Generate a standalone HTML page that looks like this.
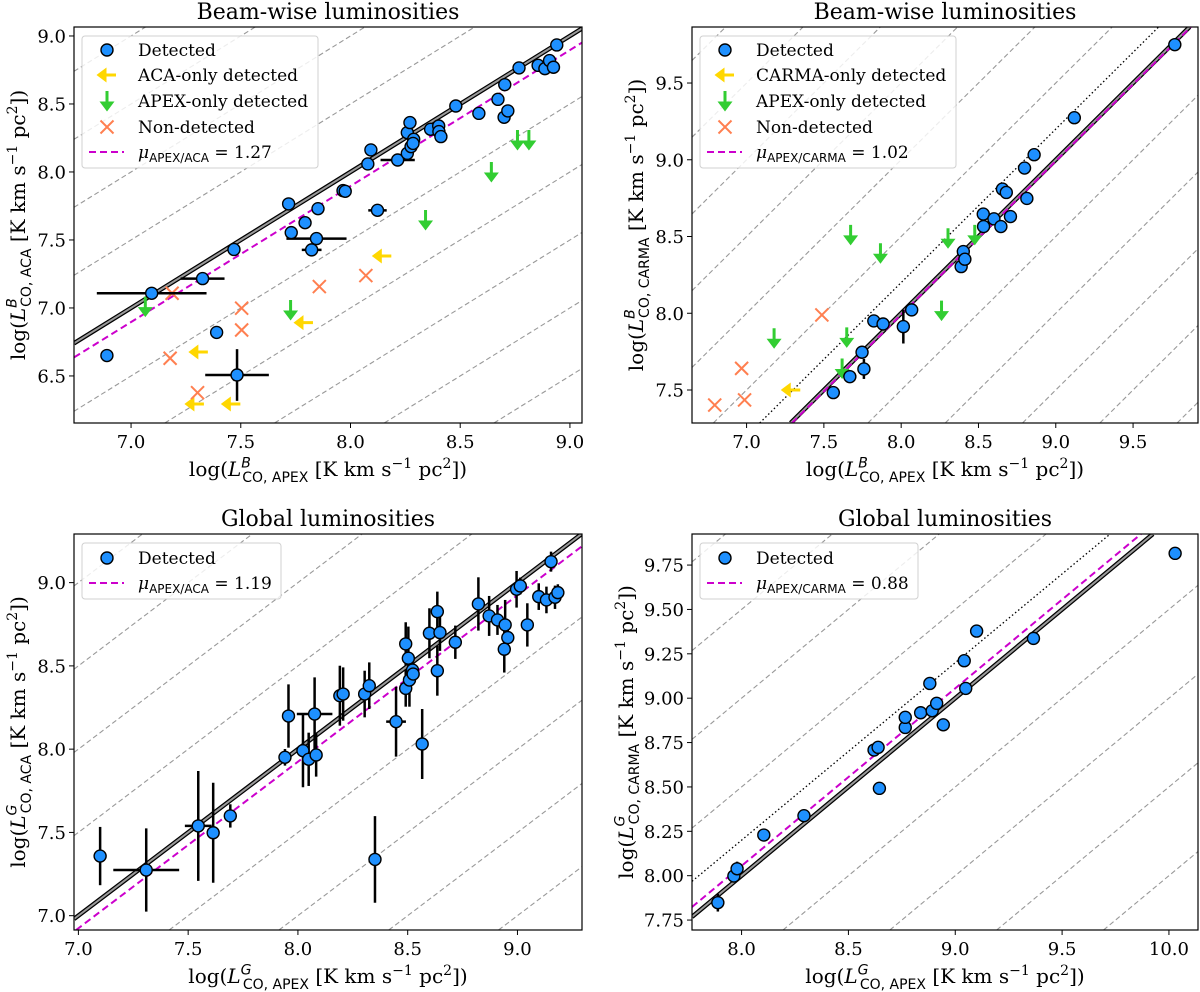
<!DOCTYPE html>
<html><head><meta charset="utf-8"><title>CO luminosity comparison</title>
<style>
html,body{margin:0;padding:0;background:#fff;width:1200px;height:992px;overflow:hidden;}
svg{display:block;overflow:hidden;}
text{font-family:"DejaVu Serif","Liberation Serif",serif;fill:#000;}
.sans{font-family:"DejaVu Sans","Liberation Sans",sans-serif;}
</style></head>
<body>
<svg id="fig" width="1200" height="992" viewBox="0 0 1200 992" xmlns="http://www.w3.org/2000/svg"></svg>
<script>
// ---------- Data: top-left (beam-wise APEX vs ACA) ----------
const tlDetX = [6.89,7.094,7.326,7.39,7.483,7.469,7.718,7.73,7.793,7.852,7.845,7.823,7.966,7.976,8.079,8.093,8.123,8.215,8.259,8.271,8.259,8.276,8.288,8.285,8.365,8.402,8.403,8.412,8.48,8.585,8.672,8.703,8.70,8.717,8.768,8.855,8.886,8.907,8.925,8.94];
const tlDetY = [6.65,7.108,7.216,6.82,6.507,7.43,7.765,7.554,7.627,7.73,7.51,7.427,7.863,7.858,8.059,8.162,7.718,8.088,8.289,8.363,8.137,8.186,8.24,8.21,8.314,8.338,8.297,8.26,8.485,8.431,8.534,8.642,8.402,8.449,8.765,8.784,8.76,8.819,8.77,8.934];
const tlDetXErr = [0,0.25,0.1,0,0.145,0,0,0,0,0,0.137,0.045,0,0,0,0,0.042,0.078,0,0,0,0,0,0,0,0,0,0,0,0,0,0,0,0,0,0,0,0,0,0];
const tlDetYErr = [0,0,0,0,0.19,0,0,0,0,0,0,0,0,0,0,0,0,0,0,0,0,0,0,0,0,0,0,0,0,0,0,0,0,0,0,0,0,0,0,0];
const tlAltX = [8.145,7.788,7.309,7.291,7.457];
const tlAltY = [7.382,6.892,6.676,6.294,6.294];
const tlApexX = [7.065,7.727,8.342,8.642,8.761,8.813];
const tlApexY = [7.01,6.985,7.647,8.0,8.235,8.235];
const tlNonX = [7.187,7.178,7.303,7.504,7.504,7.858,8.07];
const tlNonY = [7.108,6.63,6.377,6.998,6.838,7.157,7.238];
const tlMu = 1.27;
// ---------- Data: top-right (beam-wise APEX vs CARMA) ----------
const trDetX = [7.561,7.668,7.759,7.747,7.823,7.883,8.014,8.068,8.388,8.402,8.412,8.531,8.533,8.6,8.645,8.655,8.68,8.707,8.813,8.798,8.86,9.12,9.77];
const trDetY = [7.483,7.587,7.637,7.746,7.95,7.93,7.913,8.022,8.304,8.402,8.352,8.646,8.565,8.615,8.565,8.809,8.787,8.63,8.748,8.946,9.033,9.274,9.75];
const trDetXErr = [0,0,0,0,0,0,0,0,0,0,0,0,0,0,0,0,0,0,0,0,0,0,0];
const trDetYErr = [0,0,0.065,0.03,0,0,0.11,0,0,0,0,0,0,0,0,0,0,0,0,0,0,0,0];
const trAltX = [7.289];
const trAltY = [7.5];
const trApexX = [7.178,7.673,7.866,7.648,7.618,8.261,8.303,8.476];
const trApexY = [7.837,8.511,8.391,7.843,7.64,8.017,8.489,8.511];
const trNonX = [6.794,6.968,6.987,7.487];
const trNonY = [7.402,7.641,7.435,7.989];
const trMu = 1.02;
// ---------- Data: bottom-left (global APEX vs ACA) ----------
const blDetX = [7.099,7.309,7.546,7.614,7.692,7.941,7.957,8.023,8.049,8.076,8.083,8.191,8.206,8.304,8.325,8.351,8.447,8.491,8.491,8.503,8.508,8.522,8.525,8.566,8.599,8.635,8.635,8.647,8.717,8.822,8.871,8.909,8.944,8.94,8.956,8.996,9.013,9.045,9.097,9.132,9.153,9.171,9.184];
const blDetY = [7.358,7.274,7.539,7.498,7.599,7.951,8.199,7.991,7.939,8.211,7.965,8.321,8.331,8.331,8.381,7.338,8.165,8.632,8.365,8.546,8.415,8.475,8.451,8.031,8.696,8.826,8.471,8.7,8.642,8.872,8.8,8.776,8.746,8.6,8.67,8.96,8.98,8.746,8.916,8.896,9.126,8.912,8.94];
const blDetXErr = [0,0.15,0.061,0,0,0,0,0,0,0.081,0,0,0,0,0,0,0.045,0,0,0,0,0,0,0,0,0,0,0,0,0,0,0,0,0,0,0,0,0,0,0,0,0,0];
const blDetYErr = [0.175,0.25,0.33,0.3,0.07,0.05,0.19,0.22,0.16,0.22,0.13,0.18,0.16,0.14,0.14,0.26,0.21,0.13,0.11,0.19,0.16,0.06,0.06,0.21,0.15,0.12,0.15,0.11,0.1,0.16,0.12,0.09,0.15,0.14,0.1,0.11,0.05,0.13,0.08,0.08,0.06,0.07,0.05];
const blMu = 1.19;
// ---------- Data: bottom-right (global APEX vs CARMA) ----------
const brDetX = [7.889,7.964,7.979,8.104,8.292,8.62,8.639,8.645,8.766,8.766,8.838,8.881,8.892,8.913,8.944,9.042,9.049,9.1,9.366,10.029];
const brDetY = [7.848,7.998,8.039,8.229,8.338,8.708,8.723,8.492,8.835,8.892,8.918,9.083,8.929,8.971,8.85,9.211,9.055,9.378,9.337,9.816];
const brDetXErr = [0,0,0,0,0,0,0,0,0,0,0,0,0,0,0,0,0,0,0,0];
const brDetYErr = [0.05,0,0.04,0,0,0,0,0.03,0,0,0,0,0,0,0,0,0,0,0,0];
const brMu = 0.88;
// tick values
const tlXTicks = [7.0,7.5,8.0,8.5,9.0];
const tlYTicks = [6.5,7.0,7.5,8.0,8.5,9.0];
const trXTicks = [7.0,7.5,8.0,8.5,9.0,9.5];
const trYTicks = [7.5,8.0,8.5,9.0,9.5];
const blXTicks = [7.0,7.5,8.0,8.5,9.0];
const blYTicks = [7.0,7.5,8.0,8.5,9.0];
const brXTicks = [8.0,8.5,9.0,9.5,10.0];
const brYTicks = [7.75,8.00,8.25,8.50,8.75,9.00,9.25,9.50,9.75];

const NS = 'http://www.w3.org/2000/svg';
const fig = document.getElementById('fig');
function mk(parent, tag, attrs, name, inter) {
  const el = document.createElementNS(NS, tag);
  for (const k in attrs) el.setAttribute(k, attrs[k]);
  
  
  parent.appendChild(el);
  return el;
}
function tspan(parent, txt, attrs) {
  const t = document.createElementNS(NS, 'tspan');
  for (const k in attrs) t.setAttribute(k, attrs[k]);
  t.textContent = txt;
  parent.appendChild(t);
  return t;
}
function lumLabel(t, sup, sub, fs) {
  const small = Math.round(fs * 0.68);
  tspan(t, 'log(', {});
  tspan(t, 'L', {'font-style': 'italic'});
  tspan(t, sup, {'font-style': 'italic', 'font-size': small, 'dy': -fs * 0.42, 'class': 'sans'});
  tspan(t, sub, {'font-size': small, 'dy': fs * 0.72, 'dx': -small * 0.62, 'class': 'sans'});
  tspan(t, ' [K km s', {'dy': -fs * 0.30});
  tspan(t, '\u22121', {'font-size': small, 'dy': -fs * 0.40});
  tspan(t, ' pc', {'dy': fs * 0.40});
  tspan(t, '2', {'font-size': small, 'dy': -fs * 0.40});
  tspan(t, '])', {'dy': fs * 0.40});
}

const panels = [
  {id:'tl', L:74, R:582, T:27, B:423, xd:[6.74,9.055], yd:[6.154,9.066], xt:tlXTicks, yt:tlYTicks, ydec:1,
   title:'Beam-wise luminosities', sup:'B', ysub:'CO, ACA', xsub:'CO, APEX', ylx:18,
   det:[tlDetX,tlDetY,tlDetXErr,tlDetYErr], alt:[tlAltX,tlAltY], apex:[tlApexX,tlApexY], non:[tlNonX,tlNonY],
   mu:tlMu, musub:'APEX/ACA', dotted:false, altLabel:'ACA-only detected',
   leg:{x:82,y:36,w:236,h:132}},
  {id:'tr', L:692, R:1198, T:27, B:423, xd:[6.647,9.92], yd:[7.285,9.865], xt:trXTicks, yt:trYTicks, ydec:1,
   title:'Beam-wise luminosities', sup:'B', ysub:'CO, CARMA', xsub:'CO, APEX', ylx:636,
   det:[trDetX,trDetY,trDetXErr,trDetYErr], alt:[trAltX,trAltY], apex:[trApexX,trApexY], non:[trNonX,trNonY],
   mu:trMu, musub:'APEX/CARMA', dotted:true, altLabel:'CARMA-only detected',
   leg:{x:700,y:36,w:256,h:132}},
  {id:'bl', L:74, R:582, T:534, B:930, xd:[6.98,9.294], yd:[6.914,9.292], xt:blXTicks, yt:blYTicks, ydec:1,
   title:'Global luminosities', sup:'G', ysub:'CO, ACA', xsub:'CO, APEX', ylx:18,
   det:[blDetX,blDetY,blDetXErr,blDetYErr], mu:blMu, musub:'APEX/ACA', dotted:false,
   leg:{x:82,y:543,w:199,h:56}},
  {id:'br', L:692, R:1198, T:534, B:930, xd:[7.768,10.136], yd:[7.694,9.925], xt:brXTicks, yt:brYTicks, ydec:2,
   title:'Global luminosities', sup:'G', ysub:'CO, CARMA', xsub:'CO, APEX', ylx:626,
   det:[brDetX,brDetY,brDetXErr,brDetYErr], mu:brMu, musub:'APEX/CARMA', dotted:true,
   leg:{x:700,y:543,w:218,h:56}}
];

const BLUE = '#1e90ff', GOLD = '#ffd700', GREEN = '#32cd32', CORAL = '#ff7f50', MAG = '#cc00cc';

function leftArrow(g, x, y) {
  mk(g, 'path', {d:`M${x+9},${y} L${x-4},${y} M${x-8},${y} L${x-2},${y-4.5} L${x-2},${y+4.5} Z`, stroke:GOLD, 'stroke-width':3, fill:GOLD}, 'aca-only-arrow');
}
function downArrow(g, x, y) {
  mk(g, 'path', {d:`M${x},${y-10} L${x},${y+3} M${x},${y+8} L${x-4.5},${y+2} L${x+4.5},${y+2} Z`, stroke:GREEN, 'stroke-width':3, fill:GREEN}, 'apex-only-arrow');
}
function cross(g, x, y) {
  const s = 6.5;
  mk(g, 'path', {d:`M${x-s},${y-s} L${x+s},${y+s} M${x-s},${y+s} L${x+s},${y-s}`, stroke:CORAL, 'stroke-width':2, fill:'none'}, 'non-detected-marker');
}

panels.forEach(p => {
  const sx = v => p.L + (v - p.xd[0]) / (p.xd[1] - p.xd[0]) * (p.R - p.L);
  const sy = v => p.B - (v - p.yd[0]) / (p.yd[1] - p.yd[0]) * (p.B - p.T);
  const g = mk(fig, 'g', {}, p.id + '-panel', false);
  const defs = mk(g, 'defs', {}, p.id + '-defs', false);
  const cp = mk(defs, 'clipPath', {id: 'clip-' + p.id}, p.id + '-clip', false);
  mk(cp, 'rect', {x:p.L, y:p.T, width:p.R - p.L, height:p.B - p.T}, p.id + '-clip-rect', false);
  const plot = mk(g, 'g', {'clip-path': `url(#clip-${p.id})`}, p.id + '-plot-area', false);
  // draw y = x + c clipped analytically to the axes box
  const diag = (c, attrs, name) => {
    const a = Math.max(p.xd[0], p.yd[0] - c), b = Math.min(p.xd[1], p.yd[1] - c);
    if (b <= a) return;
    const at = Object.assign({x1:sx(a), y1:sy(a + c), x2:sx(b), y2:sy(b + c)}, attrs);
    mk(plot, 'line', at, name);
  };
  for (let k = -12; k <= 12; k++) {
    if (k === 0) continue;
    diag(0.5 * k, {stroke:'#999', 'stroke-width':1.1, 'stroke-dasharray':'5,3'}, 'offset-guide-line');
  }
  if (p.dotted) diag(0.2, {stroke:'#000', 'stroke-width':1.3, 'stroke-dasharray':'1.5,2.5'}, 'dotted-offset-line');
  diag(0, {stroke:'#000', 'stroke-width':4.5}, 'one-to-one-line');
  diag(0, {stroke:'#9a9a9a', 'stroke-width':2}, 'one-to-one-band');
  diag(-Math.log10(p.mu), {stroke:MAG, 'stroke-width':2, 'stroke-dasharray':'7,4'}, 'mu-fit-line');
  if (p.alt) p.alt[0].forEach((v, i) => leftArrow(plot, sx(v), sy(p.alt[1][i])));
  if (p.apex) p.apex[0].forEach((v, i) => downArrow(plot, sx(v), sy(p.apex[1][i])));
  if (p.non) p.non[0].forEach((v, i) => cross(plot, sx(v), sy(p.non[1][i])));
  const [dx, dy, ex, ey] = p.det;
  dx.forEach((v, i) => {
    if (ex[i] > 0) mk(plot, 'line', {x1:sx(v - ex[i]), y1:sy(dy[i]), x2:sx(v + ex[i]), y2:sy(dy[i]), stroke:'#000', 'stroke-width':2.5}, 'x-error-bar');
    if (ey[i] > 0) mk(plot, 'line', {x1:sx(v), y1:sy(dy[i] - ey[i]), x2:sx(v), y2:sy(dy[i] + ey[i]), stroke:'#000', 'stroke-width':2.5}, 'y-error-bar');
  });
  dx.forEach((v, i) => {
    mk(plot, 'circle', {cx:sx(v), cy:sy(dy[i]), r:6, fill:BLUE, stroke:'#000', 'stroke-width':1.4}, 'detected-point');
  });
  mk(g, 'rect', {x:p.L, y:p.T, width:p.R - p.L, height:p.B - p.T, fill:'none', stroke:'#000', 'stroke-width':1.2}, p.id + '-axes-frame');
  p.xt.forEach(v => {
    const X = sx(v);
    mk(g, 'line', {x1:X, y1:p.B, x2:X, y2:p.B + 5, stroke:'#000', 'stroke-width':1}, 'x-tick');
    const t = mk(g, 'text', {x:X, y:p.B + 25, 'text-anchor':'middle', 'font-size':18}, 'x-tick-label');
    t.textContent = v.toFixed(1);
  });
  p.yt.forEach(v => {
    const Y = sy(v);
    mk(g, 'line', {x1:p.L - 5, y1:Y, x2:p.L, y2:Y, stroke:'#000', 'stroke-width':1}, 'y-tick');
    const t = mk(g, 'text', {x:p.L - 8, y:Y + 6.5, 'text-anchor':'end', 'font-size':18}, 'y-tick-label');
    t.textContent = v.toFixed(p.ydec);
  });
  const tt = mk(g, 'text', {x:(p.L + p.R) / 2, y:p.T - 8, 'text-anchor':'middle', 'font-size':22}, p.id + '-title');
  tt.textContent = p.title;
  const xl = mk(g, 'text', {x:(p.L + p.R) / 2, y:p.B + 53, 'text-anchor':'middle', 'font-size':20}, p.id + '-x-axis-title');
  lumLabel(xl, p.sup, p.xsub, 20);
  const cy = (p.T + p.B) / 2;
  const yl = mk(g, 'text', {x:p.ylx, y:cy, 'text-anchor':'middle', 'font-size':20, transform:`rotate(-90 ${p.ylx} ${cy}) translate(0 7)`}, p.id + '-y-axis-title');
  lumLabel(yl, p.sup, p.ysub, 20);
  const lg = mk(g, 'g', {}, p.id + '-legend', false);
  mk(lg, 'rect', {x:p.leg.x, y:p.leg.y, width:p.leg.w, height:p.leg.h, rx:3, fill:'rgba(255,255,255,0.82)', stroke:'#d0d0d0', 'stroke-width':1}, 'legend-frame');
  const mx = p.leg.x + 25;
  const tx = p.leg.x + 56;
  const rowY = p.alt ? [50, 75, 101, 127, 152] : [558, 583];
  let ri = 0;
  const entry = (name) => mk(lg, 'g', {}, name, false);
  let e = entry('legend-entry-detected');
  mk(e, 'circle', {cx:mx, cy:rowY[ri], r:6, fill:BLUE, stroke:'#000', 'stroke-width':1.4}, 'legend-detected-marker');
  let t = mk(e, 'text', {x:tx, y:rowY[ri] + 6, 'font-size':17}, 'legend-detected-label'); t.textContent = 'Detected'; ri++;
  if (p.alt) {
    e = entry('legend-entry-single-detected');
    leftArrow(e, mx, rowY[ri]);
    t = mk(e, 'text', {x:tx, y:rowY[ri] + 6, 'font-size':17}, 'legend-single-label'); t.textContent = p.altLabel; ri++;
    e = entry('legend-entry-apex-only');
    downArrow(e, mx, rowY[ri]);
    t = mk(e, 'text', {x:tx, y:rowY[ri] + 6, 'font-size':17}, 'legend-apex-only-label'); t.textContent = 'APEX-only detected'; ri++;
    e = entry('legend-entry-non-detected');
    cross(e, mx, rowY[ri]);
    t = mk(e, 'text', {x:tx, y:rowY[ri] + 6, 'font-size':17}, 'legend-non-detected-label'); t.textContent = 'Non-detected'; ri++;
  }
  e = entry('legend-entry-mu');
  mk(e, 'line', {x1:mx - 18, y1:rowY[ri], x2:mx + 17, y2:rowY[ri], stroke:MAG, 'stroke-width':2, 'stroke-dasharray':'7,4'}, 'legend-mu-line');
  t = mk(e, 'text', {x:tx, y:rowY[ri] + 6, 'font-size':17}, 'legend-mu-label');
  tspan(t, '\u03bc', {'font-style':'italic'});
  tspan(t, p.musub, {'font-size':12, 'dy':4, 'class':'sans'});
  tspan(t, ' = ' + p.mu.toFixed(2), {'dy':-4});
});
</script>
</body></html>
